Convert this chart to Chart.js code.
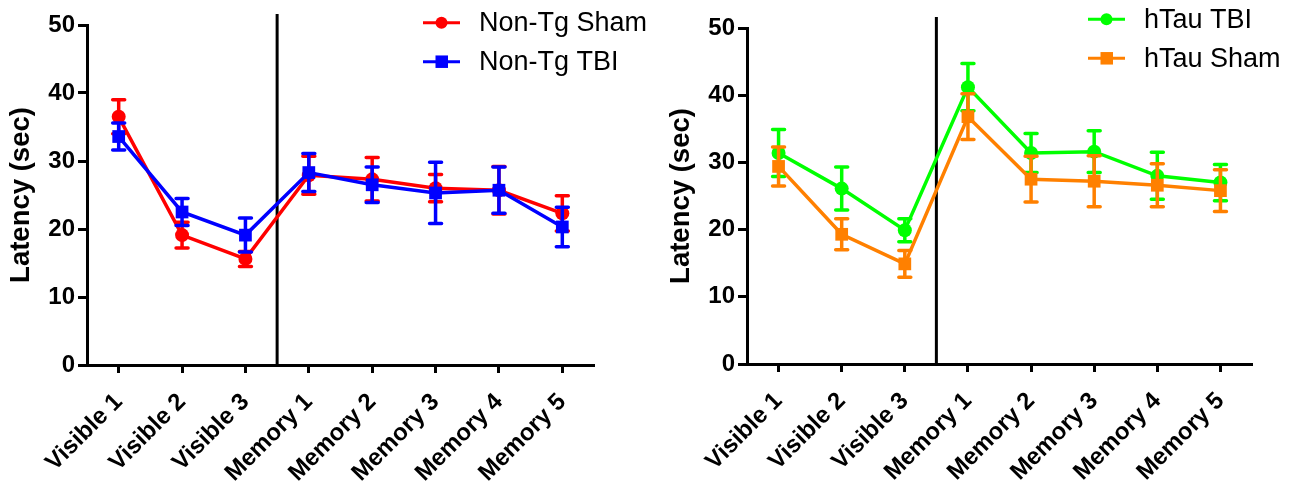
<!DOCTYPE html>
<html>
<head>
<meta charset="utf-8">
<title>Latency by session</title>
<script src="https://cdn.jsdelivr.net/npm/chart.js@4/dist/chart.umd.min.js"></script>
<style>
    body { margin: 0; background: #fff; width: 1293px; height: 492px; overflow: hidden; position: relative; }
    canvas { position: absolute; top: 0; }
    #leftChart { left: 0; }
    #rightChart { left: 660px; }
</style>
</head>
<body>
<canvas id="leftChart" width="660" height="492"></canvas>
<canvas id="rightChart" width="633" height="492"></canvas>
<script>
const sessions = ['Visible 1', 'Visible 2', 'Visible 3', 'Memory 1', 'Memory 2', 'Memory 3', 'Memory 4', 'Memory 5'];
const yMin = 0;
const yMax = 50;
const yStep = 10;

// left panel
const nonTgSham = [36.5, 19.1, 15.6, 27.9, 27.3, 26.0, 25.7, 22.3];
const nonTgShamSem = [2.5, 1.9, 1.1, 2.8, 3.2, 2.0, 3.5, 2.6];
const nonTgTbi = [33.6, 22.5, 19.1, 28.3, 26.5, 25.3, 25.7, 20.3];
const nonTgTbiSem = [2.0, 2.0, 2.5, 2.8, 2.6, 4.5, 3.4, 2.9];

// right panel
const hTauTbi = [31.4, 26.1, 19.9, 41.2, 31.4, 31.6, 28.0, 27.0];
const hTauTbiSem = [3.5, 3.2, 1.7, 3.5, 2.9, 3.1, 3.5, 2.7];
const hTauSham = [29.4, 19.3, 14.9, 36.8, 27.5, 27.2, 26.6, 25.8];
const hTauShamSem = [2.9, 2.3, 2.0, 3.4, 3.4, 3.8, 3.2, 3.1];

const FONT = "'Liberation Sans', Arial, Helvetica, sans-serif";

// SEM bars, drawn under each dataset's line and symbols
const errorBars = {
    id: 'errorBars',
    beforeDatasetDraw(chart, args) {
        const ds = chart.data.datasets[args.index];
        if (!ds.sem) return;
        const ctx = chart.ctx;
        const xs = chart.scales.x;
        const ys = chart.scales.y;
        ctx.save();
        ctx.strokeStyle = ds.borderColor;
        ctx.lineWidth = 3.5;
        ctx.lineCap = 'round';
        ds.data.forEach((v, i) => {
            const px = xs.getPixelForValue(i);
            const top = ys.getPixelForValue(v + ds.sem[i]);
            const bot = ys.getPixelForValue(v - ds.sem[i]);
            ctx.beginPath();
            ctx.moveTo(px, top);
            ctx.lineTo(px, bot);
            ctx.moveTo(px - 6, top);
            ctx.lineTo(px + 6, top);
            ctx.moveTo(px - 6, bot);
            ctx.lineTo(px + 6, bot);
            ctx.stroke();
        });
        ctx.restore();
    }
};

// vertical line between the visible and memory sessions
const divider = {
    id: 'divider',
    beforeDatasetsDraw(chart, args, opts) {
        const ctx = chart.ctx;
        const px = chart.scales.x.getPixelForValue(opts.at);
        const { top, bottom } = chart.chartArea;
        ctx.save();
        ctx.strokeStyle = '#000';
        ctx.lineWidth = 3;
        ctx.beginPath();
        ctx.moveTo(px, top - opts.above);
        ctx.lineTo(px, bottom);
        ctx.stroke();
        ctx.restore();
    }
};

// legend sitting above the top right of the plot
const sideLegend = {
    id: 'sideLegend',
    afterDraw(chart, args, opts) {
        const ctx = chart.ctx;
        ctx.save();
        chart.data.datasets.forEach((ds, i) => {
            const y = opts.y + i * opts.gap;
            const x = opts.x;
            ctx.strokeStyle = ds.borderColor;
            ctx.fillStyle = ds.borderColor;
            ctx.lineWidth = 3;
            ctx.beginPath();
            ctx.moveTo(x, y);
            ctx.lineTo(x + 37, y);
            ctx.stroke();
            if (ds.pointStyle === 'rect') {
                ctx.fillRect(x + 12.5, y - 6.25, 12.5, 12.5);
            } else {
                ctx.beginPath();
                ctx.arc(x + 18.5, y, 6, 0, Math.PI * 2);
                ctx.fill();
            }
            ctx.fillStyle = '#000';
            ctx.font = `27px ${FONT}`;
            ctx.textBaseline = 'middle';
            ctx.fillText(ds.label, x + 56, y + 1);
        });
        ctx.restore();
    }
};

function series(label, data, sem, color, style, order) {
    return {
        label,
        data,
        sem,
        order,
        borderColor: color,
        backgroundColor: color,
        borderWidth: 3.5,
        pointStyle: style,
        pointRadius: style === 'rect' ? 9 : 7,
        pointBorderWidth: 0,
        tension: 0,
        fill: false
    };
}

function makeChart(id, datasets, legend, pad) {
    return new Chart(document.getElementById(id), {
        type: 'line',
        data: { labels: sessions, datasets },
        options: {
            responsive: false,
            animation: false,
            events: [],
            layout: { padding: { top: pad.top, right: pad.right, bottom: 0, left: 0 } },
            plugins: {
                legend: { display: false },
                tooltip: { enabled: false },
                divider: { at: 2.5, above: 11 },
                sideLegend: legend
            },
            scales: {
                x: {
                    offset: true,
                    grid: { drawOnChartArea: false, tickLength: 8, tickWidth: 3, tickColor: '#000' },
                    border: { color: '#000', width: 3 },
                    ticks: {
                        color: '#000',
                        font: { family: FONT, size: 24, weight: 'bold' },
                        minRotation: 45,
                        maxRotation: 45,
                        padding: 15
                    },
                    afterFit: s => { s.height = pad.bottom; }
                },
                y: {
                    min: yMin,
                    max: yMax,
                    grid: { drawOnChartArea: false, tickLength: 9, tickWidth: 3, tickColor: '#000' },
                    border: { color: '#000', width: 3 },
                    ticks: {
                        stepSize: yStep,
                        color: '#000',
                        padding: 3,
                        font: { family: FONT, size: 24, weight: 'bold' }
                    },
                    title: {
                        display: true,
                        text: 'Latency (sec)',
                        color: '#000',
                        font: { family: FONT, size: 27.5, weight: 'bold' },
                        padding: { top: 5, bottom: 0 }
                    },
                    afterFit: s => { s.width = 87; }
                }
            }
        },
        plugins: [errorBars, divider, sideLegend]
    });
}

makeChart('leftChart', [
    series('Non-Tg Sham', nonTgSham, nonTgShamSem, '#ff0000', 'circle', 2),
    series('Non-Tg TBI', nonTgTbi, nonTgTbiSem, '#0000ff', 'rect', 1)
], { x: 423, y: 22.7, gap: 39 }, { top: 25, right: 66, bottom: 127 });

makeChart('rightChart', [
    series('hTau TBI', hTauTbi, hTauTbiSem, '#00ff00', 'circle', 2),
    series('hTau Sham', hTauSham, hTauShamSem, '#ff8000', 'rect', 1)
], { x: 428, y: 19.3, gap: 39 }, { top: 28, right: 41, bottom: 128 });
</script>
</body>
</html>
